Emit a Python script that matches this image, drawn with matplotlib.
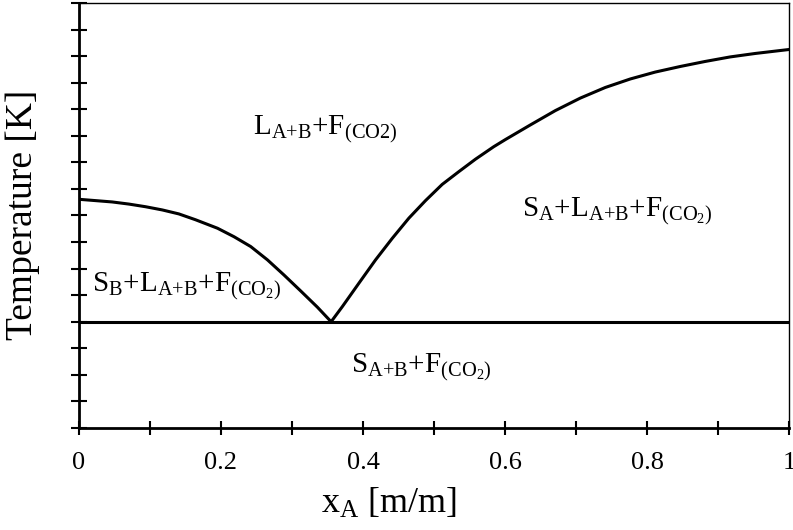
import matplotlib
matplotlib.use("Agg")
import matplotlib.pyplot as plt
import numpy as np

plt.rcParams['font.family'] = ['Liberation Serif', 'DejaVu Serif']
plt.rcParams['mathtext.fontset'] = 'custom'
plt.rcParams['mathtext.rm'] = 'Liberation Serif'
plt.rcParams['mathtext.it'] = 'Liberation Serif:italic'

# liquidus of B (left branch)
xb = [0.0, 0.0235, 0.0468, 0.0703, 0.0938, 0.1172, 0.1406, 0.1641, 0.1951,
      0.2184, 0.2419, 0.2654, 0.2887, 0.3122, 0.3357, 0.3551]
tb = [8.61, 8.56, 8.51, 8.43, 8.33, 8.21, 8.06, 7.84, 7.52,
      7.20, 6.83, 6.33, 5.76, 5.16, 4.55, 4.0]

# liquidus of A (right branch)
xa = [0.3551, 0.3709, 0.3942, 0.4177, 0.4412, 0.4646, 0.4880, 0.5115, 0.5349,
      0.5584, 0.5841, 0.6006, 0.6357, 0.6709, 0.7060, 0.7412, 0.7764, 0.8115,
      0.8467, 0.8819, 0.9170, 0.9522, 1.0]
ta = [4.0, 4.57, 5.45, 6.33, 7.14, 7.90, 8.56, 9.17, 9.65,
      10.12, 10.59, 10.86, 11.41, 11.95, 12.42, 12.82, 13.14, 13.40,
      13.61, 13.80, 13.97, 14.10, 14.25]

# eutectic line
t_eut = 4.0

labels = [r'$\mathrm{L_{A{+}B}{+}F_{(CO2)}}$',
          r'$\mathrm{S_{A}{+}L_{A{+}B}{+}F_{(CO_{2})}}$',
          r'$\mathrm{S_{B}{+}L_{A{+}B}{+}F_{(CO_{2})}}$',
          r'$\mathrm{S_{A{+}B}{+}F_{(CO_{2})}}$']
label_x = [0.245, 0.624, 0.018, 0.383]
label_y = [11.07, 7.96, 5.13, 2.1]

fig = plt.figure(figsize=(7.93, 5.3), dpi=100)
ax = fig.add_axes([0.0996, 0.1925, 0.8954, 0.8018])

ax.plot(xb, tb, color='black', lw=2.2, solid_joinstyle='round')
ax.plot(xa, ta, color='black', lw=2.2, solid_joinstyle='round')
ax.axhline(t_eut, color='black', lw=2.2)

for s, x, y in zip(labels, label_x, label_y):
    ax.text(x, y, s, fontsize=21, ha='left', va='baseline')

ax.set_xlim(0, 1)
ax.set_ylim(0, 16)
ax.set_xticks(np.arange(0, 1.01, 0.2))
ax.set_xticklabels(['0', '0.2', '0.4', '0.6', '0.8', '1'])
ax.set_xticks(np.arange(0.1, 1.0, 0.2), minor=True)
ax.set_yticks(np.arange(0, 17, 1))
ax.set_yticklabels([])
ax.tick_params(axis='both', which='both', direction='inout', length=10,
               width=1.5, labelsize=19, pad=12)
ax.tick_params(axis='y', which='both', length=11)

for side in ['left', 'bottom']:
    ax.spines[side].set_linewidth(2.0)
for side in ['top', 'right']:
    ax.spines[side].set_linewidth(1.0)

ax.set_xlabel(r'x$_{\mathrm{A}}$ [m/m]', fontsize=26)
ax.xaxis.set_label_coords(0.436, -0.139)
ax.set_ylabel('Temperature [K]', fontsize=27)
ax.yaxis.set_label_coords(-0.055, 0.501)

fig.savefig('out.png', dpi=100)
